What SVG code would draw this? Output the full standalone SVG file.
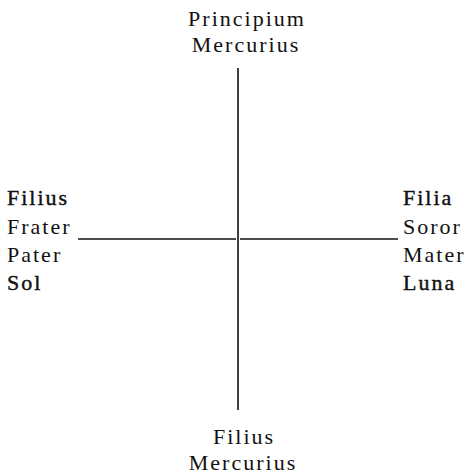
<svg xmlns="http://www.w3.org/2000/svg" width="469" height="474" viewBox="0 0 469 474">
<style>
text{font-family:"Liberation Serif","Times New Roman",serif;font-size:22px;fill:#111;letter-spacing:2px}
.c{text-anchor:middle}
.b{stroke:#111;stroke-width:0.4}
line{stroke:#111;stroke-width:1.6}
</style>
<rect width="469" height="474" fill="#fff"/>
<g id="connectors">
<line x1="238" y1="68" x2="238" y2="410"/>
<line x1="78" y1="239" x2="236" y2="239"/>
<line x1="240" y1="239" x2="398" y2="239"/>
</g>
<g id="top"><text class="c" x="247" y="26">Principium</text><text class="c" x="246" y="52">Mercurius</text></g>
<g id="left"><text x="7" y="205" class="b">Filius</text><text x="7" y="234">Frater</text><text x="7" y="262">Pater</text><text x="7" y="290" class="b">Sol</text></g>
<g id="right"><text x="403" y="205" class="b">Filia</text><text x="403" y="234">Soror</text><text x="403" y="262">Mater</text><text x="403" y="290" class="b">Luna</text></g>
<g id="bottom"><text class="c" x="244" y="444">Filius</text><text class="c" x="243" y="470">Mercurius</text></g>
</svg>
